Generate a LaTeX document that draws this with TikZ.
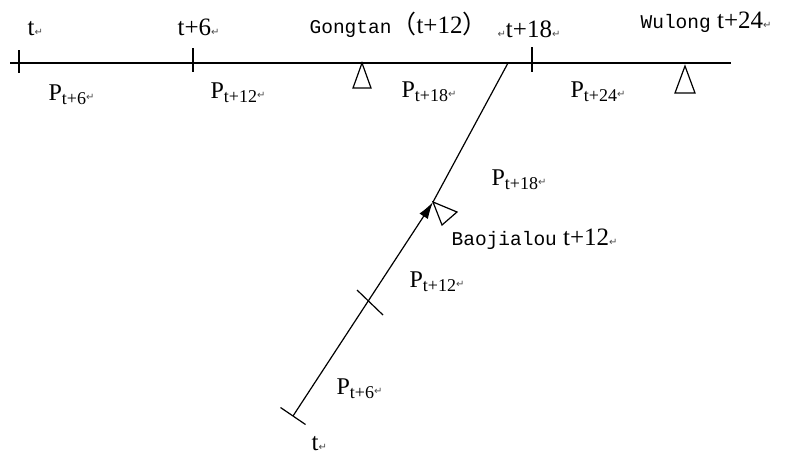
\documentclass[tikz,border=0pt]{standalone}
\usepackage{fontspec}
\setmainfont{Liberation Serif}
\setmonofont{Liberation Mono}
\newfontfamily\cjk{Noto Sans CJK SC}
\newfontfamily\symfont{DejaVu Sans}
\usepackage{tikz}
\usetikzlibrary{arrows.meta,positioning}

% paragraph mark and subscripted flow label
\newcommand{\ret}{{\symfont\fontsize{10}{10}\selectfont\color{black!70}↵}}
\newcommand{\Pflow}[1]{P\raisebox{-4pt}{\fontsize{18}{18}\selectfont #1}\ret}
\newcommand{\stname}[1]{{\ttfamily\fontsize{19.5}{19.5}\selectfont #1}}

\begin{document}
\begin{tikzpicture}[x=1pt, y=-1pt, line width=1.2pt, >=Stealth]
  \tikzstyle{tlabel} = [anchor=base west, inner sep=0pt, font=\fontsize{25}{25}\selectfont]
  \tikzstyle{plabel} = [anchor=base west, inner sep=0pt, font=\fontsize{24}{24}\selectfont]
  \tikzstyle{station} = [draw, line width=1.2pt]
  \useasboundingbox (0,0) rectangle (795,461);

  % main river line
  \coordinate (west) at (10,63);
  \coordinate (east) at (731,63);
  \coordinate (k0) at (19,63);
  \coordinate (k6) at (193,63);
  \coordinate (k18) at (532,63);
  \coordinate (junc) at (508,63);
  \coordinate (gong) at (362,63);
  \coordinate (wul) at (685,66);

  % tributary
  \coordinate (bot) at (293,416);
  \coordinate (mid) at (370,302);
  \coordinate (bao) at (433,202);

  \draw (west) -- (east);
  \draw ([yshift=13pt]k0) -- ([yshift=-10pt]k0);
  \draw ([yshift=15pt]k6) -- ([yshift=-9pt]k6);
  \draw ([yshift=16pt]k18) -- ([yshift=-9pt]k18);

  \draw[-{Latex[length=17pt,width=10pt]}] (bot) -- (bao);
  \draw (bao) -- (junc);
  \draw (bot) ++(-12.5,-8.5) -- ++(25,17);
  \draw (mid) ++(-13,-12) -- ++(26,25);

  % stations
  \draw[station] (gong) -- ++(-9,25) -- ++(18,0) -- cycle;
  \draw[station] (wul) -- ++(-10,27) -- ++(20,0) -- cycle;
  \draw[station] (bao) -- ++(24,10) -- ++(-15,13) -- cycle;

  % time labels
  \node[tlabel] (lt0) at (27,35) {t\ret};
  \node[tlabel] (lt6) at (177,35) {t+6\ret};
  \node[tlabel] (lgong) at (309,33) {\stname{Gongtan}{\cjk （}t+12{\cjk ）}};
  \node[tlabel] (lt18) at (497,37) {\ret t+18\ret};
  \node[tlabel] (lwul) at (640,28) {\stname{Wulong} t+24\ret};
  \node[tlabel] (lbao) at (451,245) {\stname{Baojialou} t+12\ret};
  \node[tlabel] (lbot) at (311,450) {t\ret};

  % flow labels
  \node[plabel] (p6) at (48,100) {\Pflow{t+6}};
  \node[plabel] (p12) at (210,98) {\Pflow{t+12}};
  \node[plabel] (p18) at (401,97) {\Pflow{t+18}};
  \node[plabel] (p24) at (570,97) {\Pflow{t+24}};
  \node[plabel] (q18) at (491,185) {\Pflow{t+18}};
  \node[plabel] (q12) at (409,287) {\Pflow{t+12}};
  \node[plabel] (q6) at (336,394) {\Pflow{t+6}};
\end{tikzpicture}
\end{document}
